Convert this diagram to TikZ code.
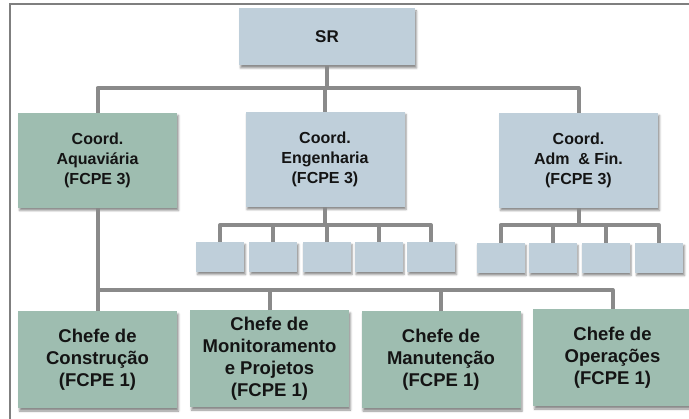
\documentclass[tikz,border=0pt]{standalone}
\usepackage{fontspec}
\setmainfont{Liberation Sans}
\usetikzlibrary{shadows.blur}

\definecolor{boxblue}{HTML}{BFCFDA}
\definecolor{boxgreen}{HTML}{9EBDB0}
\definecolor{linkgray}{HTML}{8A8A8A}
\definecolor{framegray}{HTML}{7F7F7F}
\definecolor{inkdark}{HTML}{141414}

\tikzset{
  unitbox/.style={fill=#1, inner sep=0pt, align=center, text=inkdark,
    blur shadow={shadow xshift=1.5pt, shadow yshift=-2.5pt,
                 shadow blur radius=2pt, shadow opacity=45}},
  headbox/.style={unitbox=boxblue, minimum width=176pt, minimum height=57pt,
    font=\bfseries\fontsize{17}{20}\selectfont},
  coordbox/.style={unitbox=#1, minimum width=159pt, minimum height=95pt,
    font=\bfseries\fontsize{16}{20}\selectfont},
  chiefbox/.style={unitbox=boxgreen, minimum width=159pt, minimum height=97pt,
    font=\bfseries\fontsize{18.5}{22}\selectfont},
  subbox/.style={unitbox=boxblue, minimum width=48pt, minimum height=30pt},
  link/.style={draw=linkgray, line width=4pt, line join=round},
  frameline/.style={draw=framegray, line width=2pt}
}

\begin{document}
\begin{tikzpicture}[x=1pt, y=-1pt]
\useasboundingbox (0,0) rectangle (689,419);

% outer frame (top and left edges)
\draw[frameline] (9.5,419) -- (9.5,4.5) -- (689,4.5);

% top level
\node[headbox] (sr) at (327,37) {SR};

% coordinations
\node[coordbox=boxgreen] (aq)  at (97.5,160.5) {Coord.\\Aquaviária\\(FCPE 3)};
\node[coordbox=boxblue]  (eng) at (325,159.5)  {Coord.\\Engenharia\\(FCPE 3)};
\node[coordbox=boxblue]  (adm) at (578.5,160.5) {Coord.\\Adm \ \& Fin.\\(FCPE 3)};

% units under Engenharia
\node[subbox] (e1) at (220,257) {};
\node[subbox] (e2) at (273,257) {};
\node[subbox] (e3) at (326.5,257) {};
\node[subbox] (e4) at (378.5,257) {};
\node[subbox] (e5) at (431,257) {};

% units under Adm & Fin.
\node[subbox] (a1) at (500.5,258) {};
\node[subbox] (a2) at (552.5,258) {};
\node[subbox] (a3) at (605.5,258) {};
\node[subbox] (a4) at (659,258) {};

% chiefs under Aquaviária
\node[chiefbox] (c1) at (97.5,360)  {Chefe de\\Construção\\(FCPE 1)};
\node[chiefbox] (c2) at (269.5,359) {Chefe de\\Monitoramento\\e Projetos\\(FCPE 1)};
\node[chiefbox] (c3) at (441,360)   {Chefe de\\Manutenção\\(FCPE 1)};
\node[chiefbox] (c4) at (612.5,358) {Chefe de\\Operações\\(FCPE 1)};

% bus levels
\coordinate (tb) at (0,88);
\coordinate (eb) at (0,225);
\coordinate (ab) at (0,225);
\coordinate (bb) at (0,290);

% SR to coordinations
\draw[link] (sr.south) -- (sr.south |- tb);
\draw[link] (aq.north) -- (aq.north |- tb) -- (adm.north |- tb) -- (adm.north);
\draw[link] (eng.north) -- (eng.north |- tb);

% Engenharia to its units
\draw[link] (eng.south) -- (eng.south |- eb);
\draw[link] (e1.north) -- (e1.north |- eb) -- (e5.north |- eb) -- (e5.north);
\foreach \u in {e2,e3,e4} \draw[link] (\u.north) -- (\u.north |- eb);

% Adm & Fin. to its units
\draw[link] (adm.south) -- (adm.south |- ab);
\draw[link] (a1.north) -- (a1.north |- ab) -- (a4.north |- ab) -- (a4.north);
\foreach \u in {a2,a3} \draw[link] (\u.north) -- (\u.north |- ab);

% Aquaviária to its chiefs
\draw[link] (aq.south) -- (c1.north);
\draw[link] (aq.south |- bb) -- (c4.north |- bb) -- (c4.north);
\foreach \u in {c2,c3} \draw[link] (\u.north) -- (\u.north |- bb);
\end{tikzpicture}
\end{document}
